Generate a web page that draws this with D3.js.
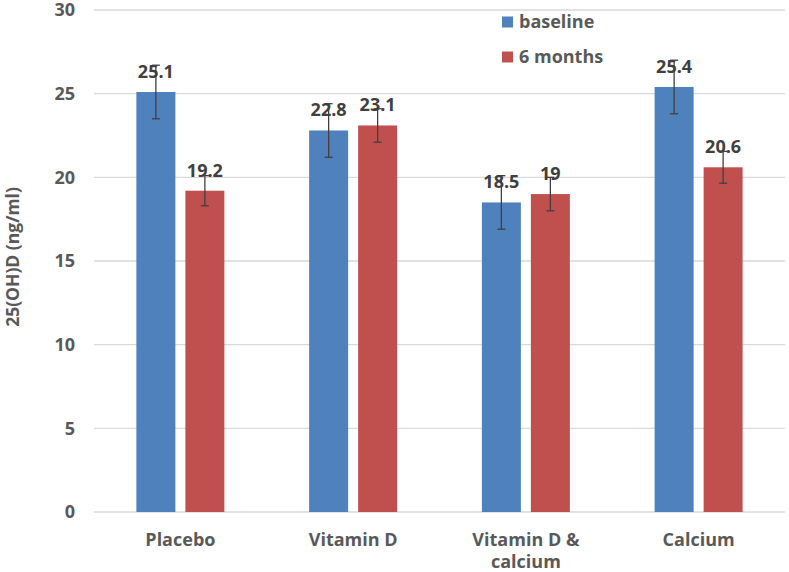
<!DOCTYPE html>
<html>
<head>
<meta charset="utf-8">
<script src="https://cdn.jsdelivr.net/npm/d3@7"></script>
<style>
  body { margin: 0; background: #fff; }
  svg { display: block; }
  text { font-family: "Open Sans", "Noto Sans", sans-serif; font-weight: bold; }
</style>
</head>
<body>
<svg id="chart" width="789" height="572"></svg>
<script>
const categories = ["Placebo", "Vitamin D", "Vitamin D & calcium", "Calcium"];
const categoryLines = [["Placebo"], ["Vitamin D"], ["Vitamin D &", "calcium"], ["Calcium"]];
const seriesNames = ["baseline", "6 months"];
const baselineValues = [25.1, 22.8, 18.5, 25.4];
const sixMonthValues = [19.2, 23.1, 19, 20.6];
const baselineErrors = [1.6, 1.6, 1.6, 1.6];
const sixMonthErrors = [0.9, 1.0, 1.0, 0.95];
const yTicks = [0, 5, 10, 15, 20, 25, 30];
const yTitle = "25(OH)D (ng/ml)";

(function () {
const colors = { "baseline": "#4f81bd", "6 months": "#c0504d" };
const svg = d3.select("#chart");

const pLeft = 94, pRight = 785, pTop = 10, pBottom = 512;
const y = d3.scaleLinear().domain([0, 30]).range([pBottom, pTop]);
const x0 = d3.scaleBand().domain(categories).range([pLeft, pRight]).padding(0);
const x1 = d3.scaleBand().domain(seriesNames).range([0, x0.bandwidth()])
  .paddingInner(0.204).paddingOuter(0.865);

// gridlines
svg.append("g").selectAll("line").data(yTicks).join("line")
  .attr("x1", pLeft).attr("x2", pRight)
  .attr("y1", d => y(d)).attr("y2", d => y(d))
  .attr("stroke", "#d9d9d9").attr("stroke-width", 1.3);

// y tick labels
svg.append("g").selectAll("text").data(yTicks).join("text")
  .attr("x", 75).attr("y", d => y(d)).attr("dy", "0.36em")
  .attr("text-anchor", "end").attr("fill", "#595959").attr("font-size", 18)
  .text(d => d);

// y title
svg.append("text")
  .attr("transform", `translate(18.5,257) rotate(-90)`)
  .attr("text-anchor", "middle").attr("fill", "#595959").attr("font-size", 17.5)
  .text(yTitle);

const data = categories.map((c, i) => ({
  cat: c,
  vals: [
    { s: "baseline", v: baselineValues[i], e: baselineErrors[i] },
    { s: "6 months", v: sixMonthValues[i], e: sixMonthErrors[i] }
  ]
}));

const groups = svg.append("g").selectAll("g").data(data).join("g")
  .attr("transform", d => `translate(${x0(d.cat)},0)`);

groups.selectAll("rect").data(d => d.vals).join("rect")
  .attr("x", d => x1(d.s)).attr("width", x1.bandwidth())
  .attr("y", d => y(d.v)).attr("height", d => y(0) - y(d.v))
  .attr("fill", d => colors[d.s]);

// value labels
groups.selectAll("text.val").data(d => d.vals).join("text").attr("class", "val")
  .attr("x", d => x1(d.s) + x1.bandwidth() / 2)
  .attr("y", d => y(d.v) - 14)
  .attr("text-anchor", "middle").attr("fill", "#404040").attr("font-size", 18)
  .text(d => d.v);

// error bars
const eb = groups.selectAll("g.err").data(d => d.vals).join("g").attr("class", "err")
  .attr("stroke", "#404040").attr("stroke-width", 1.3);
const cx = d => x1(d.s) + x1.bandwidth() / 2;
eb.append("line")
  .attr("x1", cx).attr("x2", cx)
  .attr("y1", d => y(d.v + d.e)).attr("y2", d => y(d.v - d.e));
eb.append("line")
  .attr("x1", d => cx(d) - 4).attr("x2", d => cx(d) + 4)
  .attr("y1", d => y(d.v + d.e)).attr("y2", d => y(d.v + d.e));
eb.append("line")
  .attr("x1", d => cx(d) - 4).attr("x2", d => cx(d) + 4)
  .attr("y1", d => y(d.v - d.e)).attr("y2", d => y(d.v - d.e));

// category labels
const catLabels = svg.append("g").selectAll("text").data(categories).join("text")
  .attr("x", d => x0(d) + x0.bandwidth() / 2)
  .attr("y", 546)
  .attr("text-anchor", "middle").attr("fill", "#595959").attr("font-size", 18);
catLabels.each(function (d, i) {
  const t = d3.select(this);
  categoryLines[i].forEach((ln, j) => {
    t.append("tspan").attr("x", x0(d) + x0.bandwidth() / 2).attr("dy", j === 0 ? 0 : 22).text(ln);
  });
});

// legend
const legend = svg.append("g").selectAll("g").data(seriesNames).join("g")
  .attr("transform", (d, i) => `translate(502,${16.5 + i * 35})`);
legend.append("rect").attr("width", 11).attr("height", 11).attr("fill", d => colors[d]);
legend.append("text").attr("x", 17).attr("y", 11).attr("fill", "#595959")
  .attr("font-size", 18).text(d => d);
})();
</script>
</body>
</html>
